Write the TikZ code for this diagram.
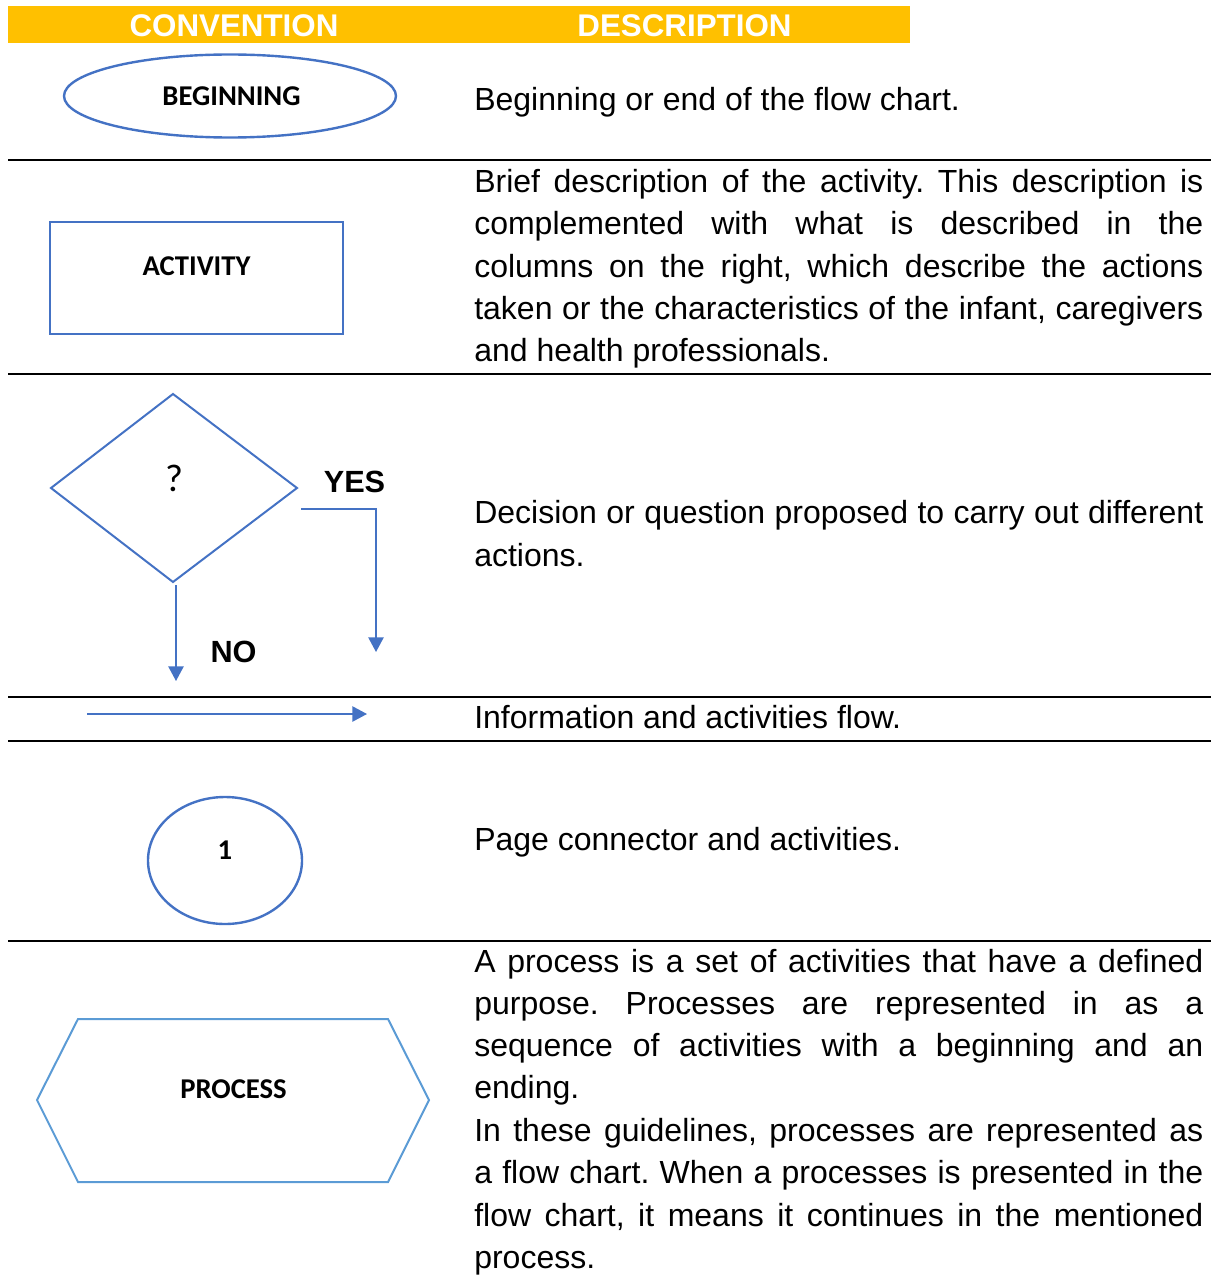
\documentclass[tikz,border=0pt]{standalone}
\usepackage{fontspec}
\setmainfont{Liberation Sans}
\newfontfamily\calib{Carlito}
\usetikzlibrary{arrows.meta,shapes.geometric}
\definecolor{hdr}{HTML}{FFC000}
\definecolor{blu}{HTML}{4472C4}
\definecolor{lblu}{HTML}{5B9BD5}
\newcommand\jl[1]{\makebox[546.75pt][s]{#1}}
\frenchspacing
\begin{document}
\begin{tikzpicture}[x=0.75pt,y=-0.75pt,
  desc/.style={anchor=base west, inner sep=0pt, font=\fontsize{24}{28}\selectfont},
  lab/.style={anchor=base, inner sep=0pt, font=\calib\bfseries\fontsize{21.5}{24}\selectfont},
  big/.style={anchor=base, inner sep=0pt, font=\bfseries\fontsize{23}{26}\selectfont},
  sep/.style={line width=1.9pt},
  shp/.style={draw=blu, line width=1.8pt, inner sep=0pt},
  arr/.style={draw=blu, line width=1.1pt, -{Triangle[width=11.5pt,length=11pt]}}]
\useasboundingbox (0,0) rectangle (1211,1277);
% header
\fill[hdr] (8,6) rectangle (910,43);
\node[big, text=white, font=\bfseries\fontsize{23.5}{26}\selectfont] (hconv) at (234,37) {CONVENTION};
\node[big, text=white, font=\bfseries\fontsize{23.5}{26}\selectfont] (hdesc) at (684.5,37) {DESCRIPTION};
% separators
\draw[sep] (8,160) -- (1211,160);
\draw[sep] (8,374) -- (1211,374);
\draw[sep] (8,697) -- (1211,697);
\draw[sep] (8,741) -- (1211,741);
\draw[sep] (8,941) -- (1211,941);
% row 1
\node[shp, ellipse, draw, minimum width=249pt, minimum height=62.25pt] (beg) at (230,96) {};
\node[lab] (begl) at (231.5,106) {BEGINNING};
\node[desc] (t1) at (474,111) {Beginning or end of the flow chart.};
% row 2
\node[shp, rectangle, draw, minimum width=219.75pt, minimum height=84pt] (act) at (196.5,278) {};
\node[lab] (actl) at (196.5,275) {ACTIVITY};
\node[desc] (t2a) at (474,192) {\jl{Brief description of the activity. This description is}};
\node[desc] (t2b) at (474,234) {\jl{complemented with what is described in the}};
\node[desc] (t2c) at (474,277) {\jl{columns on the right, which describe the actions}};
\node[desc] (t2d) at (474,319) {\jl{taken or the characteristics of the infant, caregivers}};
\node[desc] (t2e) at (474,361) {and health professionals.};
% row 3
\draw[draw=blu, line width=1.5pt] (173,394) coordinate (dt) -- (297,488) coordinate (dr)
  -- (173,582) coordinate (db) -- (51,488) coordinate (dl) -- cycle;
\node[anchor=base, inner sep=0pt, font=\calib\fontsize{29}{30}\selectfont] (q) at (174,491) {?};
\node[big] (yes) at (354.5,492) {YES};
\node[big] (no) at (233.5,662) {NO};
\coordinate (noS) at (176,585);
\coordinate (noE) at (176,681);
\draw[arr] (noS) -- (noE);
\coordinate (yS) at (301,509);
\coordinate (yE) at (376,652);
\draw[arr] (yS) -| (yE);
\node[desc] (t3a) at (474,523) {\jl{Decision or question proposed to carry out different}};
\node[desc] (t3b) at (474,566) {actions.};
% row 4
\coordinate (fS) at (87,714);
\coordinate (fE) at (367,714);
\draw[arr] (fS) -- (fE);
\node[desc] (t4) at (474,728) {Information and activities flow.};
% row 5
\node[shp, ellipse, draw, minimum width=115.5pt, minimum height=95.25pt] (con) at (225,860.5) {};
\node[lab] (conl) at (225,859) {1};
\node[desc] (t5) at (474,850) {Page connector and activities.};
% row 6
\draw[draw=lblu, line width=1.5pt] (37,1100) -- (78,1019) -- (388,1019) -- (429,1100) -- (388,1182) -- (78,1182) -- cycle;
\node[lab] (procl) at (233.5,1098) {PROCESS};
\node[desc] (t6a) at (474,972) {\jl{A process is a set of activities that have a defined}};
\node[desc] (t6b) at (474,1014) {\jl{purpose. Processes are represented in as a}};
\node[desc] (t6c) at (474,1056) {\jl{sequence of activities with a beginning and an}};
\node[desc] (t6d) at (474,1098) {ending.};
\node[desc] (t6e) at (474,1141) {\jl{In these guidelines, processes are represented as}};
\node[desc] (t6f) at (474,1183) {\jl{a flow chart. When a processes is presented in the}};
\node[desc] (t6g) at (474,1226) {\jl{flow chart, it means it continues in the mentioned}};
\node[desc] (t6h) at (474,1268) {process.};
\end{tikzpicture}
\end{document}
